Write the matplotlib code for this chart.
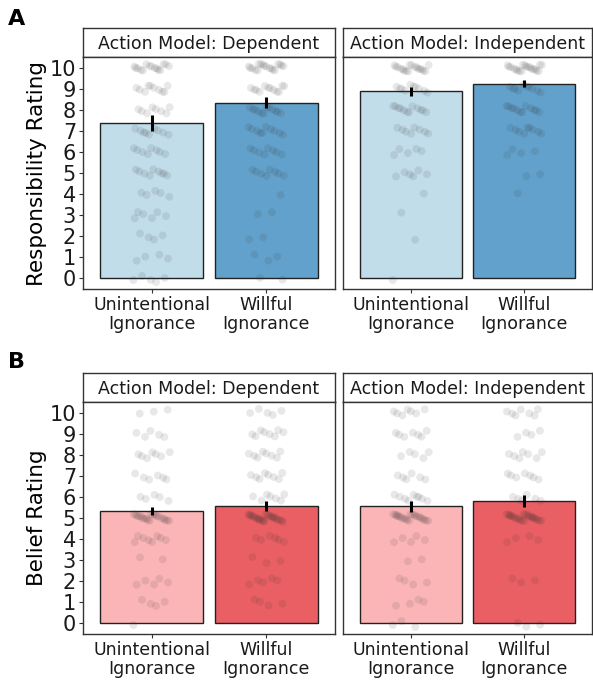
import numpy as np
import matplotlib
matplotlib.use("Agg")
import matplotlib.pyplot as plt

plt.rcParams['font.family'] = ['DejaVu Sans']

# categories and facets
conditions = ["Unintentional\nIgnorance", "Willful\nIgnorance"]
facets = ["Action Model: Dependent", "Action Model: Independent"]
ratings = np.arange(0, 11)

# bar means and standard errors
resp_mean_dep = [7.39, 8.34]
resp_se_dep = [0.38, 0.27]
resp_mean_ind = [8.88, 9.24]
resp_se_ind = [0.22, 0.17]
belief_mean_dep = [5.32, 5.56]
belief_se_dep = [0.20, 0.23]
belief_mean_ind = [5.56, 5.80]
belief_se_ind = [0.26, 0.27]

# number of participants at each rating 0..10 (estimated from the dots)
resp_counts_dep_unint = [5, 4, 4, 6, 5, 9, 8, 9, 8, 10, 15]
resp_counts_dep_will = [2, 3, 2, 2, 1, 8, 8, 10, 12, 12, 18]
resp_counts_ind_unint = [1, 0, 1, 1, 1, 6, 5, 8, 12, 10, 18]
resp_counts_ind_will = [0, 0, 0, 0, 1, 2, 4, 9, 12, 10, 20]
belief_counts_dep_unint = [1, 4, 5, 2, 8, 20, 5, 6, 7, 5, 3]
belief_counts_dep_will = [0, 4, 5, 3, 6, 25, 7, 8, 8, 8, 5]
belief_counts_ind_unint = [3, 4, 4, 2, 5, 22, 9, 6, 5, 7, 7]
belief_counts_ind_will = [3, 0, 3, 0, 4, 24, 6, 7, 7, 4, 7]

resp_colors = ["#c1ddea", "#62a1cb"]
belief_colors = ["#fbb5b7", "#e95f63"]

W, H = 593, 681
fig = plt.figure(figsize=(W / 100, H / 100), dpi=100)


def px_axes(x0, y0, x1, y1):
    return fig.add_axes([x0 / W, 1 - y1 / H, (x1 - x0) / W, (y1 - y0) / H])


def jitter_offsets(n, k):
    # deterministic spread for jittered dots
    g = 0.6180339887
    i = np.arange(n) + 7 * k
    dx = ((i * g) % 1.0 - 0.5) * 0.32
    dy = ((i * 0.7548776662 + 0.3) % 1.0 - 0.5) * 0.38
    return dx, dy


def draw_panel(x0, x1, top, bottom, title, means, ses, counts, colors, show_y, ylabel):
    strip = px_axes(x0, top - 29, x1, top)
    strip.set_xticks([])
    strip.set_yticks([])
    for s in strip.spines.values():
        s.set_color("#333333")
        s.set_linewidth(1.0)
    strip.text(0.5, 0.45, title, ha="center", va="center", fontsize=12.5,
               color="#1a1a1a", transform=strip.transAxes)

    ax = px_axes(x0, top, x1, bottom)
    xpos = np.arange(len(conditions))
    ax.bar(xpos, means, width=0.9, color=colors, edgecolor="#222222",
           linewidth=1.0, zorder=1)
    for j, cnt in enumerate(counts):
        vals = np.repeat(ratings, cnt)
        dx, dy = jitter_offsets(len(vals), j)
        ax.scatter(xpos[j] + dx, vals + dy, s=32, color="#333333", alpha=0.11,
                   edgecolors="none", zorder=2)
    ax.errorbar(xpos, means, yerr=ses, fmt="none", ecolor="black",
                elinewidth=2.2, capsize=0, zorder=3)
    ax.set_xlim(-0.6, 1.6)
    ax.set_ylim(-0.5, 10.5)
    ax.set_xticks(xpos)
    ax.set_xticklabels(conditions, fontsize=12.5, color="#1a1a1a", linespacing=1.05)
    ax.set_yticks(ratings)
    ax.tick_params(axis="both", color="#333333", width=0.8, length=3, pad=2)
    if show_y:
        ax.set_yticklabels([str(r) for r in ratings], fontsize=15, color="#1a1a1a")
        ax.set_ylabel(ylabel, fontsize=15.5, labelpad=2)
    else:
        ax.set_yticklabels([])
        ax.tick_params(axis="y", length=0)
    for s in ax.spines.values():
        s.set_color("#333333")
        s.set_linewidth(1.0)
    return ax


draw_panel(83, 335, 57, 289, facets[0], resp_mean_dep, resp_se_dep,
           [resp_counts_dep_unint, resp_counts_dep_will], resp_colors, True,
           "Responsibility Rating")
draw_panel(343, 592, 57, 289, facets[1], resp_mean_ind, resp_se_ind,
           [resp_counts_ind_unint, resp_counts_ind_will], resp_colors, False, "")
draw_panel(83, 335, 402, 634, facets[0], belief_mean_dep, belief_se_dep,
           [belief_counts_dep_unint, belief_counts_dep_will], belief_colors, True,
           "Belief Rating")
draw_panel(343, 592, 402, 634, facets[1], belief_mean_ind, belief_se_ind,
           [belief_counts_ind_unint, belief_counts_ind_will], belief_colors, False, "")

fig.text(8 / W, 1 - 19 / H, "A", fontsize=16, fontweight="bold", va="center")
fig.text(8 / W, 1 - 362 / H, "B", fontsize=16, fontweight="bold", va="center")

fig.savefig("out.png", dpi=100)
